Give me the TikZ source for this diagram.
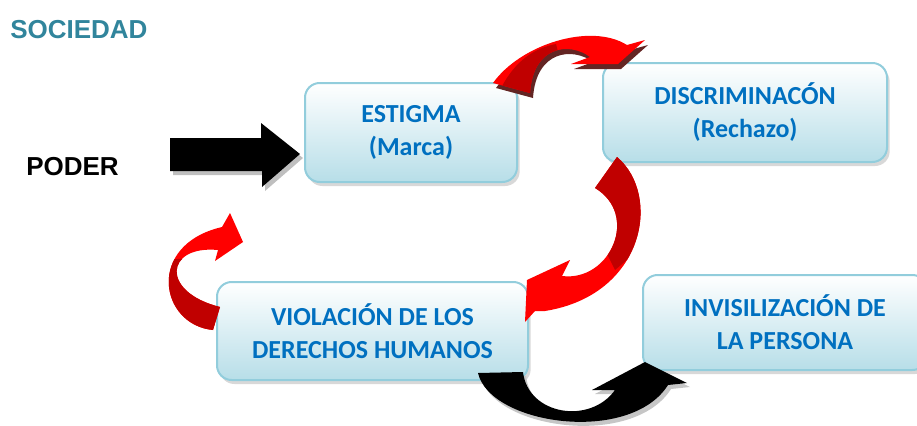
\documentclass[tikz,border=0pt]{standalone}
\usepackage{fontspec}
\setmainfont{Carlito}
\newfontfamily\arialfont{Liberation Sans}
\usepackage{tikz}
\usetikzlibrary{shadows}

\definecolor{boxblue}{HTML}{0070C0}
\definecolor{boxline}{HTML}{92CDDC}
\definecolor{boxfill}{HTML}{B7DEE8}
\definecolor{soctext}{HTML}{31859C}
\definecolor{dkred}{HTML}{C00000}
\definecolor{redshadow}{HTML}{632523}

% block arrows, in pixel units
\def\poderarrow{(170,138) -- (261,138) -- (261,123) -- (300,154) -- (262,187) -- (262,171) -- (170,171) -- cycle}
\def\arrowA{(493,83) .. controls (520,45) and (590,22) .. (627,45) -- (645,40) -- (618,64) -- (571,64) -- (590,57) .. controls (570,42) and (533,45) .. (530,93) -- cycle}
\def\arrowB{(617,157) .. controls (662,195) and (645,295) .. (545,311) -- (535,311) -- (525,322) -- (527,280) -- (570,260) -- (562,276) .. controls (610,282) and (640,215) .. (595,188) -- cycle}
\def\arrowC{(213,330) .. controls (160,325) and (145,245) .. (222,227) -- (230,213) -- (243,242) -- (215,261) -- (218,250) .. controls (165,245) and (160,292) .. (220,307) -- cycle}
\def\arrowD{(478,373) .. controls (490,425) and (630,445) .. (668,385) -- (687,383) -- (645,362) -- (592,390) -- (615,390) .. controls (590,425) and (528,415) .. (523,372) -- cycle}

\begin{document}
\begin{tikzpicture}[x=0.75pt,y=-0.75pt]
  \tikzstyle{box}=[draw=boxline,line width=1.5pt,rounded corners=11pt,
                   top color=white,bottom color=boxfill,text=boxblue,
                   font=\fontsize{19.5}{24.75}\selectfont\bfseries,align=center,
                   drop shadow={shadow xshift=2pt,shadow yshift=-3pt,fill=gray!60},
                   inner sep=0pt]
  \tikzstyle{tag}=[font=\arialfont\fontsize{19.5}{22}\selectfont\bfseries,inner sep=0pt]
  \useasboundingbox (0,0) rectangle (917,425);
  \clip (0,0) rectangle (917,425);

  \node[tag,text=soctext,anchor=base west] (SOC) at (10,38) {SOCIEDAD};
  \node[tag,anchor=base west]              (POD) at (26,175) {PODER};

  \node[box,minimum width=159pt,minimum height=74.25pt]   (ES) at (411,132.5) {ESTIGMA\\(Marca)};
  \node[box,minimum width=213pt,minimum height=74.25pt]   (DI) at (745,112.5) {DISCRIMINACÓN\\(Rechazo)};
  \node[box,minimum width=233.25pt,minimum height=73.5pt] (VI) at (372.5,331) {VIOLACIÓN DE LOS\\DERECHOS HUMANOS};
  \node[box,minimum width=213pt,minimum height=71.25pt]   (IN) at (785,322.5) {INVISILIZACIÓN DE\\LA PERSONA};

  % poder -> estigma
  \fill[gray!50,shift={(3,4)}] \poderarrow;
  \fill[black] \poderarrow;

  % estigma -> discriminacion
  \fill[redshadow,shift={(3,5)}] \arrowA;
  \fill[red] \arrowA;
  \begin{scope}
    \clip \arrowA;
    \fill[dkred] (533,100) -- (500,90) .. controls (515,60) and (535,48) .. (556,44) -- (560,60) -- cycle;
  \end{scope}

  % discriminacion -> violacion
  \fill[red] \arrowB;
  \begin{scope}
    \clip \arrowB;
    \fill[dkred] (580,150) -- (680,150) -- (680,215) -- (615,270) -- (580,200) -- cycle;
  \end{scope}

  % violacion -> estigma
  \fill[red] \arrowC;
  \begin{scope}
    \clip \arrowC;
    \fill[dkred] (140,262) -- (190,258) -- (230,300) -- (230,340) -- (140,340) -- cycle;
  \end{scope}

  % violacion -> invisilizacion
  \fill[gray!45,shift={(3,4)}] \arrowD;
  \fill[black] \arrowD;
\end{tikzpicture}
\end{document}
